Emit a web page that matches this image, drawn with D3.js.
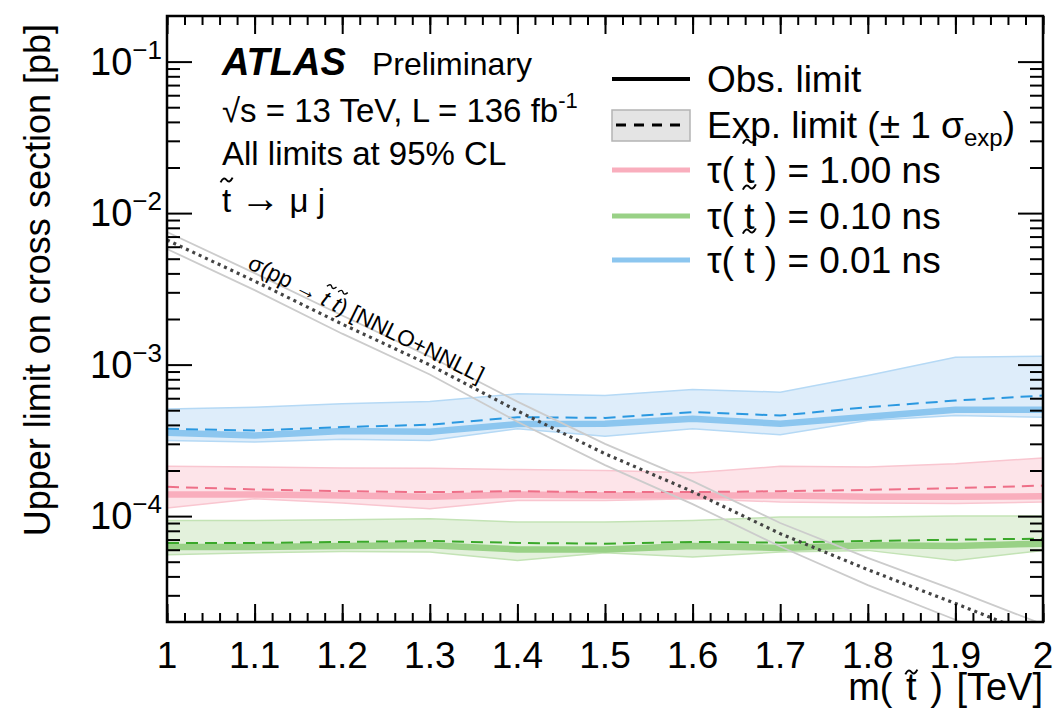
<!DOCTYPE html>
<html>
<head>
<meta charset="utf-8">
<script src="https://cdn.jsdelivr.net/npm/d3@7"></script>
<style>
body { margin: 0; background: white; }
text { font-family: "Liberation Sans", Arial, Helvetica, sans-serif; fill: black; }
</style>
</head>
<body>
<script>
//Canvas config
var margin = {top: 16, right: 15, bottom: 87, left: 167};
var width = 1058 - margin.left - margin.right;
var height = 709 - margin.top - margin.bottom;

//stop mass points [TeV]
var mass = [1.0, 1.1, 1.2, 1.3, 1.4, 1.5, 1.6, 1.7, 1.8, 1.9, 2.0];

//tau = 0.01 ns (blue)
var blueObs  = [3.55e-4, 3.40e-4, 3.65e-4, 3.60e-4, 4.05e-4, 4.07e-4, 4.39e-4, 4.07e-4, 4.52e-4, 5.03e-4, 5.03e-4];
var blueExp  = [3.77e-4, 3.67e-4, 3.87e-4, 4.01e-4, 4.50e-4, 4.45e-4, 4.86e-4, 4.61e-4, 5.24e-4, 5.79e-4, 6.25e-4];
var blueUp   = [5.10e-4, 5.24e-4, 5.51e-4, 5.70e-4, 6.41e-4, 6.25e-4, 6.84e-4, 6.58e-4, 8.46e-4, 1.12e-3, 1.135e-3];
var blueDown = [3.16e-4, 3.08e-4, 3.21e-4, 3.16e-4, 3.77e-4, 3.37e-4, 3.77e-4, 3.44e-4, 4.28e-4, 4.61e-4, 4.50e-4];

//tau = 1.00 ns (pink)
var pinkObs  = [1.39e-4, 1.39e-4, 1.37e-4, 1.34e-4, 1.39e-4, 1.37e-4, 1.37e-4, 1.37e-4, 1.34e-4, 1.34e-4, 1.35e-4];
var pinkExp  = [1.56e-4, 1.50e-4, 1.46e-4, 1.44e-4, 1.46e-4, 1.44e-4, 1.44e-4, 1.46e-4, 1.49e-4, 1.53e-4, 1.59e-4];
var pinkUp   = [2.13e-4, 2.11e-4, 2.08e-4, 2.07e-4, 2.03e-4, 2.00e-4, 1.93e-4, 2.13e-4, 2.11e-4, 2.22e-4, 2.42e-4];
var pinkDown = [1.13e-4, 1.30e-4, 1.22e-4, 1.12e-4, 1.27e-4, 1.27e-4, 1.30e-4, 1.24e-4, 1.22e-4, 1.21e-4, 1.24e-4];

//tau = 0.10 ns (green)
var greenObs  = [6.25e-5, 6.25e-5, 6.35e-5, 6.41e-5, 6.03e-5, 6.03e-5, 6.35e-5, 6.16e-5, 6.41e-5, 6.35e-5, 6.58e-5];
var greenExp  = [6.65e-5, 6.65e-5, 6.75e-5, 6.85e-5, 6.65e-5, 6.58e-5, 6.75e-5, 6.68e-5, 6.85e-5, 6.99e-5, 7.10e-5];
var greenUp   = [9.37e-5, 9.37e-5, 9.46e-5, 9.60e-5, 9.14e-5, 9.14e-5, 9.37e-5, 9.86e-5, 9.86e-5, 1.00e-4, 1.00e-4];
var greenDown = [5.56e-5, 5.74e-5, 5.85e-5, 5.80e-5, 5.10e-5, 5.72e-5, 5.37e-5, 5.80e-5, 5.94e-5, 5.10e-5, 5.94e-5];

//theory stop pair cross section NNLO+NNLL [pb]
var theory     = [6.64e-3, 3.56e-3, 1.85e-3, 9.95e-4, 4.95e-4, 2.58e-4, 1.45e-4, 7.66e-5, 4.43e-5, 2.65e-5, 1.56e-5];
var theoryUp   = [7.50e-3, 4.02e-3, 2.11e-3, 1.13e-3, 5.70e-4, 3.00e-4, 1.70e-4, 9.00e-5, 5.30e-5, 3.23e-5, 1.93e-5];
var theoryDown = [5.80e-3, 3.10e-3, 1.60e-3, 8.60e-4, 4.20e-4, 2.17e-4, 1.20e-4, 6.30e-5, 3.50e-5, 2.07e-5, 1.19e-5];

//axis ticks
var xMajor = [1, 1.1, 1.2, 1.3, 1.4, 1.5, 1.6, 1.7, 1.8, 1.9, 2];
var xLabels = ["1", "1.1", "1.2", "1.3", "1.4", "1.5", "1.6", "1.7", "1.8", "1.9", "2"];
var yMajor = [1e-4, 1e-3, 1e-2, 1e-1];
var yExponents = ["4", "3", "2", "1"];
var tauLabels = ["1.00", "0.10", "0.01"];

var series = [
	{obs: pinkObs, exp: pinkExp, up: pinkUp, down: pinkDown, fill: "#fde4e9", edge: "#f9c6d0", line: "#f9aebd", dash: "#ee6f88"},
	{obs: greenObs, exp: greenExp, up: greenUp, down: greenDown, fill: "#e3f1dc", edge: "#c3e3b5", line: "#99d186", dash: "#3aa82a"},
	{obs: blueObs, exp: blueExp, up: blueUp, down: blueDown, fill: "#deedfa", edge: "#b5d9f5", line: "#8cc6ef", dash: "#2a98e0"}
];

var svg = d3.select("body")
	.append("svg")
	.attr("width", 1058)
	.attr("height", 709);

var g = svg.append("g")
	.attr("transform", "translate(" + margin.left + "," + margin.top + ")");

var xScale = d3.scaleLinear().domain([1, 2]).range([0, width]);
var yScale = d3.scaleLog().domain([2e-5, 0.2]).range([height, 0]);

g.append("clipPath").attr("id", "plotclip")
	.append("rect").attr("width", width).attr("height", height);

var plot = g.append("g").attr("clip-path", "url(#plotclip)");

function lineOf(values) {
	return d3.line()
		.x(function(d, i) { return xScale(mass[i]); })
		.y(function(d) { return yScale(d); })(values);
}

//bands
series.forEach(function(s) {
	plot.append("path")
		.attr("d", d3.area()
			.x(function(d, i) { return xScale(mass[i]); })
			.y0(function(d, i) { return yScale(s.down[i]); })
			.y1(function(d) { return yScale(d); })(s.up))
		.style("fill", s.fill);
	[s.up, s.down].forEach(function(v) {
		plot.append("path").attr("d", lineOf(v))
			.style("fill", "none").style("stroke", s.edge).style("stroke-width", 1.5);
	});
});
//observed and expected
series.forEach(function(s) {
	plot.append("path").attr("d", lineOf(s.obs))
		.style("fill", "none").style("stroke", s.line).style("stroke-width", 6.5);
	plot.append("path").attr("d", lineOf(s.exp))
		.style("fill", "none").style("stroke", s.dash).style("stroke-width", 2)
		.style("stroke-dasharray", "12,7");
});

//theory
[theoryUp, theoryDown].forEach(function(v) {
	plot.append("path").attr("d", lineOf(v))
		.style("fill", "none").style("stroke", "#cccccc").style("stroke-width", 1.8);
});
plot.append("path").attr("d", lineOf(theory))
	.style("fill", "none").style("stroke", "#444444").style("stroke-width", 3.2)
	.style("stroke-dasharray", "3,4");

//small tilde drawn above character idx of a text element
function addTilde(textSel, idx, cy, w, sw) {
	var ext = textSel.node().getExtentOfChar(idx);
	var cx = ext.x + ext.width / 2, a = w * 0.2;
	d3.select(textSel.node().parentNode)
		.append("path")
		.attr("d", "M" + (cx - w / 2) + "," + (cy + a) +
			" Q" + (cx - w / 4) + "," + (cy - a * 1.6) + " " + cx + "," + cy +
			" T" + (cx + w / 2) + "," + (cy - a))
		.style("fill", "none")
		.style("stroke", "black")
		.style("stroke-width", sw);
}

//theory label
var ang = Math.atan2(yScale(theory[4]) - yScale(theory[1]), xScale(mass[4]) - xScale(mass[1])) * 180 / Math.PI;
var lab = g.append("g")
	.attr("transform", "translate(" + (xScale(mass[1]) - 8) + "," + (yScale(theory[1]) - 13) + ") rotate(" + ang + ")");
var labText = lab.append("text").style("font-size", "22.5px");
labText.append("tspan").text("σ(pp → ");
labText.append("tspan").style("font-style", "italic").text("t");
labText.append("tspan").text(" ");
labText.append("tspan").style("font-style", "italic").text("t");
labText.append("tspan").text(") [NNLO+NNLL]");
addTilde(labText, 7, -21, 9, 1.4);
addTilde(labText, 9, -21, 9, 1.4);

//frame
g.append("rect")
	.attr("width", width).attr("height", height)
	.style("fill", "none").style("stroke", "black").style("stroke-width", 2.5);

//ticks
var xMinor = d3.range(0, 51).map(function(i) { return 1 + i * 0.02; });
var yMinor = [];
[-5, -4, -3, -2, -1].forEach(function(k) {
	for (var m = 2; m <= 9; m++) {
		var v = m * Math.pow(10, k);
		if (v > 2e-5 && v < 0.2) yMinor.push(v);
	}
});
function tickGroup(axis) {
	var a = g.append("g").call(axis);
	a.select(".domain").remove();
	a.selectAll("line").style("stroke", "black").style("stroke-width", 2);
	a.selectAll("text").remove();
	return a;
}
tickGroup(d3.axisBottom(xScale).tickValues(xMinor).tickSize(-9)).attr("transform", "translate(0," + height + ")");
tickGroup(d3.axisBottom(xScale).tickValues(xMajor).tickSize(-18)).attr("transform", "translate(0," + height + ")");
tickGroup(d3.axisTop(xScale).tickValues(xMinor).tickSize(-9));
tickGroup(d3.axisTop(xScale).tickValues(xMajor).tickSize(-18));
tickGroup(d3.axisLeft(yScale).tickValues(yMinor).tickSize(-13));
tickGroup(d3.axisLeft(yScale).tickValues(yMajor).tickSize(-25));
tickGroup(d3.axisRight(yScale).tickValues(yMinor).tickSize(-13)).attr("transform", "translate(" + width + ",0)");
tickGroup(d3.axisRight(yScale).tickValues(yMajor).tickSize(-25)).attr("transform", "translate(" + width + ",0)");

//x tick labels
g.selectAll(".xlab").data(xMajor).enter()
	.append("text")
	.attr("class", "xlab")
	.attr("x", function(d) { return xScale(d); })
	.attr("y", height + 46)
	.attr("text-anchor", "middle")
	.style("font-size", "37px")
	.text(function(d, i) { return xLabels[i]; });

//y tick labels
var ylab = g.selectAll(".ylab").data(yMajor).enter()
	.append("text")
	.attr("class", "ylab")
	.attr("x", -5)
	.attr("y", function(d) { return yScale(d) + 13; })
	.attr("text-anchor", "end")
	.style("font-size", "38px");
ylab.append("tspan").text("10");
ylab.append("tspan").attr("dy", -16).style("font-size", "26px")
	.text(function(d, i) { return "\u2212" + yExponents[i]; });

//axis titles
var xt = svg.append("text")
	.attr("x", 1043).attr("y", 700)
	.attr("text-anchor", "end")
	.style("font-size", "38px")
	.style("word-spacing", "3px")
	.text("m( t ) [TeV]");
addTilde(xt, 3, 672, 12, 2);

svg.append("text")
	.attr("transform", "translate(50,24) rotate(-90)")
	.attr("text-anchor", "end")
	.style("font-size", "36px")
	.text("Upper limit on cross section [pb]");

//ATLAS label and info
svg.append("text").attr("x", 222).attr("y", 75)
	.style("font-size", "38px").style("font-weight", "bold").style("font-style", "italic")
	.text("ATLAS");
svg.append("text").attr("x", 372).attr("y", 75)
	.style("font-size", "32px").text("Preliminary");
var lumi = svg.append("text").attr("x", 222).attr("y", 122).style("font-size", "33px");
lumi.append("tspan").text("√s = 13 TeV, L = 136 fb");
lumi.append("tspan").attr("dy", -14).style("font-size", "22px").text("-1");
svg.append("text").attr("x", 222).attr("y", 165)
	.style("font-size", "33px").text("All limits at 95% CL");
var decay = svg.append("text").attr("x", 222).attr("y", 212).style("font-size", "33px");
decay.append("tspan").text("t ");
decay.append("tspan").style("font-size", "40px").text("→");
decay.append("tspan").text(" μ j");
addTilde(decay, 0, 180, 12, 2);

//legend
var legX1 = 612, legX2 = 690, legText = 707;
var rows = [79, 125, 170, 216, 260];
var legFont = 37;
svg.append("line").attr("x1", legX1).attr("x2", legX2).attr("y1", rows[0]).attr("y2", rows[0])
	.style("stroke", "black").style("stroke-width", 4);
svg.append("rect").attr("x", legX1).attr("y", rows[1] - 15).attr("width", legX2 - legX1).attr("height", 31)
	.style("fill", "#e4e4e4").style("stroke", "#b4b4b4").style("stroke-width", 1.5);
svg.append("line").attr("x1", legX1 + 4).attr("x2", legX2 - 2).attr("y1", rows[1]).attr("y2", rows[1])
	.style("stroke", "black").style("stroke-width", 3).style("stroke-dasharray", "10,8");
series.forEach(function(s, i) {
	svg.append("line").attr("x1", legX1).attr("x2", legX2).attr("y1", rows[i + 2]).attr("y2", rows[i + 2])
		.style("stroke", s.line).style("stroke-width", 5);
});
svg.append("text").attr("x", legText).attr("y", rows[0] + 13).style("font-size", legFont + "px").text("Obs. limit");
var expT = svg.append("text").attr("x", legText).attr("y", rows[1] + 13).style("font-size", legFont + "px");
expT.append("tspan").text("Exp. limit (± 1 σ");
expT.append("tspan").attr("dy", 8).style("font-size", "24px").text("exp");
expT.append("tspan").attr("dy", -8).text(")");
tauLabels.forEach(function(t, i) {
	var y = rows[i + 2] + 13;
	var tt = svg.append("text").attr("x", legText).attr("y", y).style("font-size", legFont + "px")
		.text("τ( t ) = " + t + " ns");
	addTilde(tt, 3, y - 42, 13, 2);
});
</script>
</body>
</html>
